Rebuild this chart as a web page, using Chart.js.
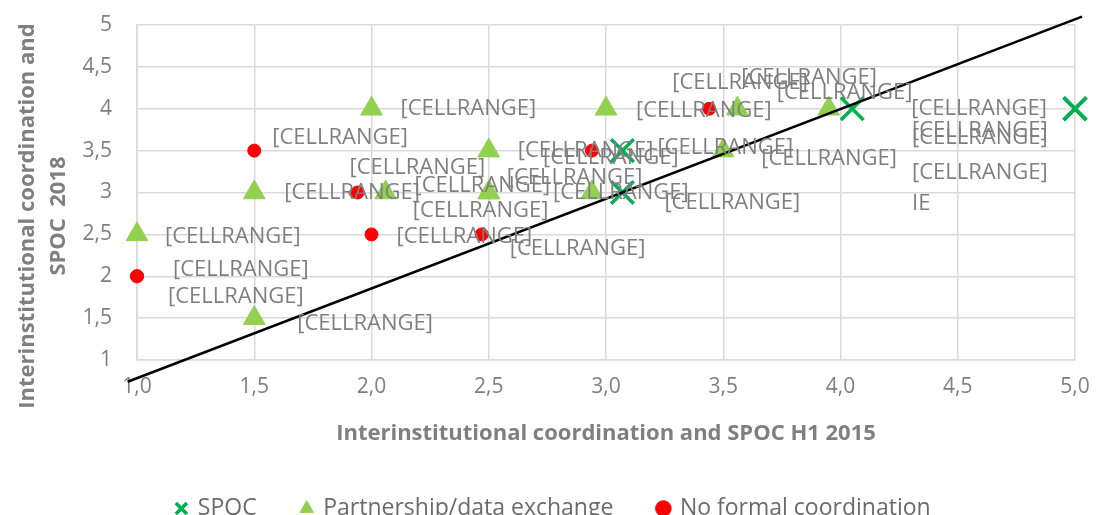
<!DOCTYPE html>
<html>
<head>
<meta charset="utf-8">
<script src="https://cdn.jsdelivr.net/npm/chart.js@4.4.1/dist/chart.umd.min.js"></script>
<style>
  html, body { margin: 0; padding: 0; background: #fff; }
  #wrap { width: 1097px; height: 515px; position: relative; }
</style>
</head>
<body>
<div id="wrap"><canvas id="myChart"></canvas></div>
<script>
// values (x = H1 2015, y = 2018)
const spocX = [3.07, 3.07, 4.05, 5.0, 5.0, 5.0];
const spocY = [3.5, 3.0, 4.0, 4.0, 4.0, 4.0];
const partnerX = [1.0, 1.5, 1.5, 2.0, 2.06, 2.5, 2.5, 2.5, 3.0, 2.94, 3.5, 3.56, 3.95];
const partnerY = [2.5, 3.0, 1.5, 4.0, 3.0, 3.5, 3.0, 3.0, 4.0, 3.0, 3.5, 4.0, 4.0];
const noFormalX = [1.0, 1.0, 1.5, 1.94, 2.0, 2.47, 2.94, 3.44];
const noFormalY = [2.0, 2.0, 3.5, 3.0, 2.5, 2.5, 3.5, 4.0];
const trendX = [0.96, 5.03];
const trendY = [0.74, 5.10];

const seriesNames = ['SPOC', 'Partnership/data exchange', 'No formal coordination'];
const xTitle = 'Interinstitutional coordination and SPOC H1 2015';
const yTitle = ['Interinstitutional coordination and', 'SPOC  2018'];

// data label texts (placeholders as in the source workbook)
const spocLabels = ['[CELLRANGE]', '[CELLRANGE]', '[CELLRANGE]', '[CELLRANGE]', '[CELLRANGE]', ['[CELLRANGE]', 'IE']];
const partnerLabels = partnerX.map(() => '[CELLRANGE]');
const noFormalLabels = noFormalX.map(() => '[CELLRANGE]');

// label nudges in px (dx to left edge, dy to middle), as placed by hand in the original
const spocShift = [[35, -3], [42, 10], [59, 0], [-163, 22], [-163, 29], [-163, 64]];
const partnerShift = [[28, 2], [30, 0], [43, 6], [29, 0], [29, -7], [29, 0], [18, -15], [-76, 18], [30, 2], [-39, 0], [38, 8], [4, -31], [-52, -16]];
const noFormalShift = [[36, -7], [31, 20], [18, -13], [-8, -25], [25, 2], [28, 14], [-49, 7], [-37, -26]];

const FONT = '"Open Sans", "Liberation Sans", sans-serif';
const GREY = '#7f7f7f';
const GRID = '#d9d9d9';

const toPoints = (xs, ys) => xs.map((x, i) => ({ x, y: ys[i] }));
const comma = (v) => {
  const r = Math.round(v * 10) / 10;
  return String(r).replace('.', ',');
};

// draws the cell-range data labels next to each marker
const pointLabels = {
  id: 'pointLabels',
  afterDatasetsDraw(chart) {
    const ctx = chart.ctx;
    ctx.save();
    ctx.font = '22px ' + FONT;
    ctx.fillStyle = GREY;
    ctx.textAlign = 'left';
    ctx.textBaseline = 'middle';
    chart.data.datasets.forEach((ds, di) => {
      if (!ds.labelText) return;
      const meta = chart.getDatasetMeta(di);
      meta.data.forEach((pt, i) => {
        const sh = ds.labelShift[i] || [28, 0];
        const lines = [].concat(ds.labelText[i]);
        lines.forEach((t, k) => ctx.fillText(t, pt.x + sh[0], pt.y + sh[1] + k * 31));
      });
    });
    ctx.restore();
  }
};

// two-line rotated y title, sits a bit below the plot centre like the original
const yAxisTitle = {
  id: 'yAxisTitle',
  afterDraw(chart) {
    const ctx = chart.ctx;
    ctx.save();
    ctx.font = 'bold 22px ' + FONT;
    ctx.fillStyle = GREY;
    ctx.textAlign = 'center';
    ctx.textBaseline = 'middle';
    ctx.translate(28, 216);
    ctx.rotate(-Math.PI / 2);
    yTitle.forEach((t, i) => ctx.fillText(t, 0, i * 31));
    ctx.restore();
  }
};

const data = {
  datasets: [
    {
      label: 'trend',
      type: 'line',
      data: toPoints(trendX, trendY),
      borderColor: '#000',
      borderWidth: 2.5,
      pointRadius: 0,
      tension: 0,
      fill: false,
      clip: false,
      order: -1
    },
    {
      label: seriesNames[0],
      data: toPoints(spocX, spocY),
      pointStyle: 'crossRot',
      pointRadius: 16,
      pointBorderWidth: 3.5,
      borderColor: '#00b050',
      backgroundColor: '#00b050',
      clip: false,
      labelText: spocLabels,
      labelShift: spocShift
    },
    {
      label: seriesNames[1],
      data: toPoints(partnerX, partnerY),
      pointStyle: 'triangle',
      pointRadius: 12.5,
      pointBorderWidth: 1,
      borderColor: '#92d050',
      backgroundColor: '#92d050',
      clip: false,
      labelText: partnerLabels,
      labelShift: partnerShift
    },
    {
      label: seriesNames[2],
      data: toPoints(noFormalX, noFormalY),
      pointStyle: 'circle',
      pointRadius: 6.5,
      pointBorderWidth: 1,
      borderColor: '#ff0000',
      backgroundColor: '#ff0000',
      clip: false,
      labelText: noFormalLabels,
      labelShift: noFormalShift
    }
  ]
};

const options = {
  responsive: true,
  maintainAspectRatio: false,
  animation: false,
  // left padding pushes the centred legend over; y axis width makes up the rest
  layout: { padding: { top: 25, left: 32, right: 22, bottom: -15 } },
  plugins: {
    tooltip: { enabled: false },
    legend: {
      position: 'bottom',
      labels: {
        filter: (item) => item.text !== 'trend',
        usePointStyle: true,
        boxWidth: 10,
        boxHeight: 11,
        padding: 45,
        color: '#6b6b6b',
        font: { family: FONT, size: 23 }
      }
    }
  },
  scales: {
    x: {
      type: 'linear',
      min: 1,
      max: 5,
      afterFit: (scale) => {
        scale.height = 92;
        scale.paddingLeft = 0;
        scale.paddingRight = 0;
      },
      ticks: {
        stepSize: 0.5,
        padding: 14,
        color: GREY,
        font: { family: FONT, size: 21 },
        callback: (v) => (Math.round(v * 10) / 10).toFixed(1).replace('.', ',')
      },
      grid: { color: GRID, lineWidth: 1.5, drawTicks: false },
      border: { color: GRID, width: 1.5 },
      title: {
        display: true,
        text: xTitle,
        color: GREY,
        font: { family: FONT, size: 22, weight: 'bold' },
        padding: { top: 0, bottom: 5 }
      }
    },
    y: {
      type: 'linear',
      min: 1,
      max: 5,
      afterFit: (scale) => {
        scale.width = 105;
        scale.paddingTop = 0;
        scale.paddingBottom = 0;
      },
      ticks: {
        stepSize: 0.5,
        padding: 25,
        color: GREY,
        font: { family: FONT, size: 21 },
        callback: comma
      },
      grid: { color: GRID, lineWidth: 1.5, drawTicks: false },
      border: { color: GRID, width: 1.5 }
    }
  }
};

new Chart(document.getElementById('myChart'), {
  type: 'scatter',
  data,
  options,
  plugins: [pointLabels, yAxisTitle]
});
</script>
</body>
</html>
